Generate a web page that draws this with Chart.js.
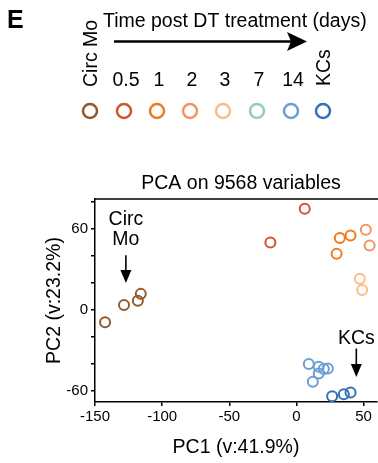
<!DOCTYPE html>
<html>
<head>
<meta charset="utf-8">
<script src="https://cdn.jsdelivr.net/npm/chart.js@4"></script>
<style>
  html, body { margin: 0; padding: 0; background: #fff; }
  #wrap { position: relative; width: 378px; height: 463px; overflow: hidden; }
</style>
</head>
<body>
<div id="wrap"><canvas id="pca" width="378" height="463"></canvas></div>
<script>
// PCA scatter — 그룹별 PC1/PC2 좌표
const groups = ["Circ Mo", "0.5", "1", "2", "3", "7", "14", "KCs"];
const groupColors = ["#93592b", "#d2542a", "#ee7b1e", "#f3955e", "#fcbd86", "#94cbc8", "#6a9fd6", "#3372b8"];

const circMoPC1 = [-142.5, -128.4, -118.1, -115.9];
const circMoPC2 = [-9.1, 3.7, 6.9, 11.9];
const d05PC1 = [-19.4, 6.2];
const d05PC2 = [49.9, 74.8];
const d1PC1 = [29.9, 32.3, 40.3];
const d1PC2 = [41.5, 53.1, 55.0];
const d2PC1 = [51.7, 54.5];
const d2PC2 = [59.3, 47.6];
const d3PC1 = [47.2, 49.0];
const d3PC2 = [23.0, 14.8];
const d7PC1 = [];
const d7PC2 = [];
const d14PC1 = [9.2, 12.2, 16.6, 16.6, 20.4, 23.4];
const d14PC2 = [-40.0, -53.1, -42.0, -46.9, -43.7, -43.2];
const kcsPC1 = [26.6, 35.3, 40.3];
const kcsPC2 = [-63.7, -62.2, -61.0];

const groupPC1 = [circMoPC1, d05PC1, d1PC1, d2PC1, d3PC1, d7PC1, d14PC1, kcsPC1];
const groupPC2 = [circMoPC2, d05PC2, d1PC2, d2PC2, d3PC2, d7PC2, d14PC2, kcsPC2];

const xTicks = [-150, -100, -50, 0, 50];
const yTicks = [-60, -40, -20, 0, 20, 40, 60, 80];
const yTickLabels = [-60, 0, 60];

const FONT = "'Liberation Sans', Arial, Helvetica, sans-serif";

// 범례 레이아웃 (캔버스 픽셀)
const legendX = [90, 124, 157, 190, 223, 257, 291, 323];

// 그림 안 주석 (데이터 좌표)
const notes = [
  { lines: ["Circ", "Mo"], x: -127, textY: [66.5, 52], arrowFrom: 40.5, arrowTo: 20 },
  { lines: ["KCs"], x: 44.6, textY: [-21], arrowFrom: -28.5, arrowTo: -49.5 },
];

function arrowDown(ctx, x, y1, y2) {
  ctx.beginPath();
  ctx.moveTo(x, y1);
  ctx.lineTo(x, y2 - 10);
  ctx.stroke();
  ctx.beginPath();
  ctx.moveTo(x, y2);
  ctx.lineTo(x - 5.5, y2 - 13);
  ctx.lineTo(x + 5.5, y2 - 13);
  ctx.closePath();
  ctx.fill();
}

const decor = {
  id: "decor",
  afterDraw(chart) {
    const { ctx, chartArea: ca, scales } = chart;
    ctx.save();
    ctx.strokeStyle = "#000";
    ctx.fillStyle = "#000";

    // 상단 테두리
    ctx.lineWidth = 1.5;
    ctx.beginPath();
    ctx.moveTo(ca.left, ca.top);
    ctx.lineTo(chart.width, ca.top);
    ctx.stroke();

    // 제목
    ctx.font = "19.5px " + FONT;
    ctx.textAlign = "center";
    ctx.textBaseline = "alphabetic";
    ctx.fillText("PCA on 9568 variables", (ca.left + ca.right) / 2 + 5, 189);

    // 주석
    ctx.font = "19.5px " + FONT;
    ctx.lineWidth = 1.6;
    notes.forEach((n) => {
      const px = scales.x.getPixelForValue(n.x);
      ctx.textBaseline = "middle";
      n.lines.forEach((t, i) => ctx.fillText(t, px, scales.y.getPixelForValue(n.textY[i])));
      arrowDown(ctx, px, scales.y.getPixelForValue(n.arrowFrom), scales.y.getPixelForValue(n.arrowTo));
    });

    // 범례 헤더
    ctx.textAlign = "left";
    ctx.textBaseline = "alphabetic";
    ctx.font = "bold 25px " + FONT;
    ctx.fillText("E", 7, 28);
    ctx.font = "19.5px " + FONT;
    ctx.fillText("Time post DT treatment (days)", 103, 27);
    ctx.lineWidth = 2.5;
    ctx.beginPath();
    ctx.moveTo(114, 41.5);
    ctx.lineTo(292, 41.5);
    ctx.stroke();
    ctx.beginPath();
    ctx.moveTo(307, 41.5);
    ctx.lineTo(287, 32);
    ctx.lineTo(291, 41.5);
    ctx.lineTo(287, 51);
    ctx.closePath();
    ctx.fill();

    // 범례 라벨 + 원
    groups.forEach((g, i) => {
      const x = legendX[i];
      if (i === 0 || i === groups.length - 1) {
        ctx.save();
        ctx.translate(x + 7, i === 0 ? 87 : 86);
        ctx.rotate(-Math.PI / 2);
        ctx.textAlign = "left";
        ctx.fillText(g, 0, 0);
        ctx.restore();
      } else {
        ctx.textAlign = "center";
        ctx.fillText(g, x + 2, 86);
      }
      ctx.strokeStyle = groupColors[i];
      ctx.lineWidth = 2.5;
      ctx.beginPath();
      ctx.arc(x, 111, 7, 0, Math.PI * 2);
      ctx.stroke();
      ctx.strokeStyle = "#000";
    });
    ctx.restore();
  },
};

const axisLine = { display: true, color: "#000", width: 1.5 };
const axisGrid = { drawOnChartArea: false, drawTicks: true, tickLength: 4, color: "#000", lineWidth: 1.5 };

new Chart(document.getElementById("pca").getContext("2d"), {
  type: "scatter",
  data: {
    datasets: groups.map((g, i) => ({
      label: g,
      data: groupPC1[i].map((x, j) => ({ x, y: groupPC2[i][j] })),
      borderColor: groupColors[i],
      backgroundColor: "rgba(0,0,0,0)",
      pointRadius: 5,
      pointBorderWidth: 2,
      pointHoverRadius: 5,
    })),
  },
  options: {
    responsive: false,
    animation: false,
    events: [],
    layout: { autoPadding: false, padding: { top: 199, left: 0, right: 1, bottom: 0 } },
    plugins: { legend: { display: false }, title: { display: false }, tooltip: { enabled: false } },
    scales: {
      x: {
        type: "linear",
        min: -150,
        max: 60,
        afterBuildTicks: (axis) => { axis.ticks = xTicks.map((v) => ({ value: v })); },
        afterFit: (scale) => { scale.height = 61; },
        ticks: { color: "#000", font: { family: FONT, size: 15 }, padding: 2, autoSkip: false, maxRotation: 0 },
        grid: axisGrid,
        border: axisLine,
        title: { display: true, text: "PC1 (v:41.9%)", color: "#000", font: { family: FONT, size: 19.5 }, padding: { top: 0, bottom: 4 } },
      },
      y: {
        type: "linear",
        min: -68,
        max: 82,
        afterBuildTicks: (axis) => { axis.ticks = yTicks.map((v) => ({ value: v })); },
        afterFit: (scale) => { scale.width = 95; },
        ticks: {
          color: "#000",
          font: { family: FONT, size: 15 },
          padding: 3,
          autoSkip: false,
          callback: (v) => (yTickLabels.includes(v) ? String(v) : ""),
        },
        grid: axisGrid,
        border: axisLine,
        title: { display: true, text: "PC2 (v:23.2%)", color: "#000", font: { family: FONT, size: 19.5 }, padding: { top: 43, bottom: 0 } },
      },
    },
  },
  plugins: [decor],
});
</script>
</body>
</html>
